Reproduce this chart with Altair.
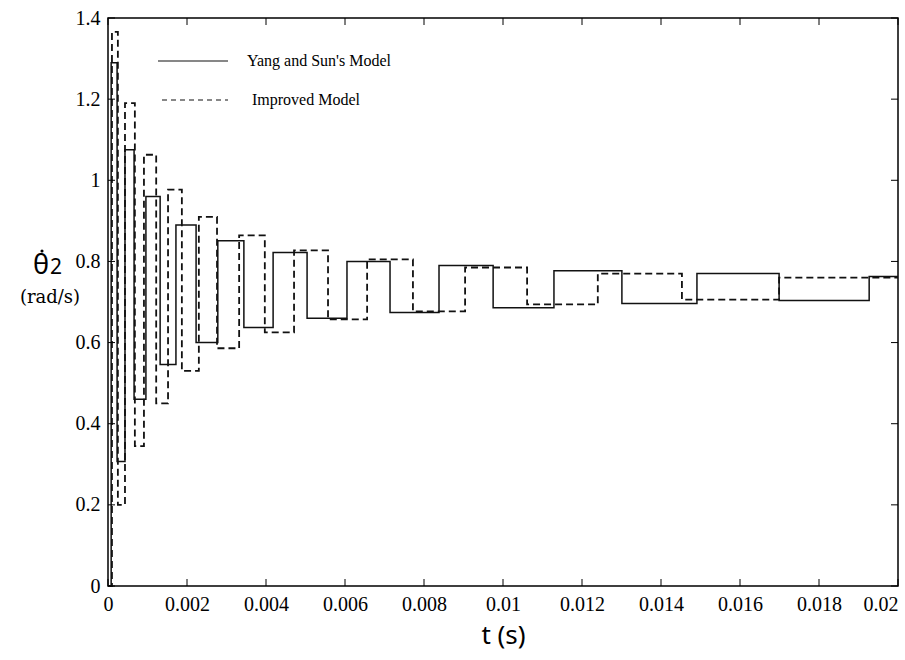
import altair as alt
import pandas as pd

# ---- data ----
solid_t = [0, 0.00008, 0.00023, 0.00043, 0.00066, 0.00096, 0.00132, 0.00172, 0.00223,
           0.00278, 0.00344, 0.00418, 0.00504, 0.00605, 0.00714, 0.00838, 0.00975,
           0.01129, 0.01301, 0.01491, 0.01699, 0.01927, 0.02]
solid_v = [0, 1.29, 0.307, 1.075, 0.46, 0.96, 0.546, 0.89, 0.60, 0.851, 0.637, 0.822,
           0.66, 0.80, 0.674, 0.79, 0.686, 0.777, 0.696, 0.77, 0.704, 0.763, 0.763]

dashed_t = [0, 0.0001, 0.00025, 0.00043, 0.00068, 0.00091, 0.00122, 0.00152, 0.00187,
            0.0023, 0.00276, 0.00332, 0.00397, 0.00471, 0.00557, 0.00656, 0.00772,
            0.00904, 0.01061, 0.0124, 0.01453, 0.01699, 0.02]
dashed_v = [0, 1.366, 0.2, 1.19, 0.345, 1.063, 0.45, 0.977, 0.53, 0.91, 0.586, 0.864,
            0.625, 0.827, 0.657, 0.805, 0.677, 0.785, 0.694, 0.77, 0.706, 0.76, 0.76]

x_ticks = [0, 0.002, 0.004, 0.006, 0.008, 0.01, 0.012, 0.014, 0.016, 0.018, 0.02]
y_ticks = [0, 0.2, 0.4, 0.6, 0.8, 1, 1.2, 1.4]
series_names = ["Yang and Sun's Model", "Improved Model"]

W, H = 790, 568
serif = "Liberation Serif"
sans = "Noto Sans"

df_s = pd.DataFrame({"t": solid_t, "v": solid_v})
df_d = pd.DataFrame({"t": dashed_t, "v": dashed_v})
df_xt = pd.DataFrame({"t": x_ticks})
df_yt = pd.DataFrame({"v": y_ticks})
one = alt.Data(values=[{}])

xs = alt.Scale(domain=[0, 0.02], nice=False, zero=False)
ys = alt.Scale(domain=[0, 1.4], nice=False)

x_axis = alt.Axis(values=x_ticks, format="~g", labelFont=serif, labelFontSize=20,
                  labelColor="black", ticks=False, domain=False, grid=False,
                  labelPadding=8, title="t (s)", titleFont=sans, titleFontSize=26,
                  titleFontWeight="normal", titleColor="black", titlePadding=8,
                  labelFlush=False,
                  labelAlign={"condition": {"test": "datum.value >= 0.02", "value": "right"},
                              "value": "center"})
y_axis = alt.Axis(values=y_ticks, format="~g", labelFont=serif, labelFontSize=20,
                  labelColor="black", ticks=False, domain=False, grid=False,
                  labelPadding=8, title=None)

solid = alt.Chart(df_s).mark_line(interpolate="step-after", color="#111",
                                  strokeWidth=1.5).encode(
    x=alt.X("t:Q", scale=xs, axis=x_axis),
    y=alt.Y("v:Q", scale=ys, axis=y_axis),
)
dashed = alt.Chart(df_d).mark_line(interpolate="step-after", color="#111",
                                   strokeWidth=1.8, strokeDash=[7, 4]).encode(
    x=alt.X("t:Q", scale=xs),
    y=alt.Y("v:Q", scale=ys),
)

# inward ticks on all four sides
tb = alt.Chart(df_xt).mark_rule(color="black", strokeWidth=1).encode(
    x=alt.X("t:Q", scale=xs), y=alt.value(H), y2=alt.value(H - 7))
tt = alt.Chart(df_xt).mark_rule(color="black", strokeWidth=1).encode(
    x=alt.X("t:Q", scale=xs), y=alt.value(0), y2=alt.value(7))
tl = alt.Chart(df_yt).mark_rule(color="black", strokeWidth=1).encode(
    y=alt.Y("v:Q", scale=ys), x=alt.value(0), x2=alt.value(7))
tr = alt.Chart(df_yt).mark_rule(color="black", strokeWidth=1).encode(
    y=alt.Y("v:Q", scale=ys), x=alt.value(W), x2=alt.value(W - 7))

# legend
leg1 = alt.Chart(one).mark_rule(color="#111", strokeWidth=1.2).encode(
    x=alt.value(50), x2=alt.value(120), y=alt.value(43))
leg2 = alt.Chart(one).mark_rule(color="#111", strokeWidth=1.2, strokeDash=[5, 4]).encode(
    x=alt.value(54), x2=alt.value(120), y=alt.value(82))
legt1 = alt.Chart(one).mark_text(align="left", baseline="middle", font=serif,
                                 fontSize=16, color="black",
                                 text=series_names[0]).encode(
    x=alt.value(139), y=alt.value(43))
legt2 = alt.Chart(one).mark_text(align="left", baseline="middle", font=serif,
                                 fontSize=16, color="black",
                                 text=series_names[1]).encode(
    x=alt.value(144), y=alt.value(82))

# y title: theta-dot with subscript 2, and unit below
yt1 = alt.Chart(one).mark_text(align="center", baseline="alphabetic", font=sans,
                               fontSize=27, color="black", text="θ").encode(
    x=alt.value(-67), y=alt.value(256))
ydot = alt.Chart(one).mark_circle(color="black", size=10, opacity=1).encode(
    x=alt.value(-66), y=alt.value(233))
yt2 = alt.Chart(one).mark_text(align="center", baseline="alphabetic", font=sans,
                               fontSize=21, color="black", text="2").encode(
    x=alt.value(-52), y=alt.value(256))
yt3 = alt.Chart(one).mark_text(align="center", baseline="middle", font="DejaVu Serif",
                               fontSize=18, color="black", text="(rad/s)").encode(
    x=alt.value(-58), y=alt.value(280))

chart = alt.layer(solid, dashed, tb, tt, tl, tr, leg1, leg2, legt1, legt2,
                  yt1, ydot, yt2, yt3).properties(
    width=W, height=H,
    padding={"left": 108, "top": 18, "right": 7, "bottom": 74},
    autosize=alt.AutoSizeParams(type="none"),
    background="white",
).configure_view(stroke="black", strokeWidth=1.5)

chart.save("out.html", embed_options={"renderer": "svg", "actions": False})
